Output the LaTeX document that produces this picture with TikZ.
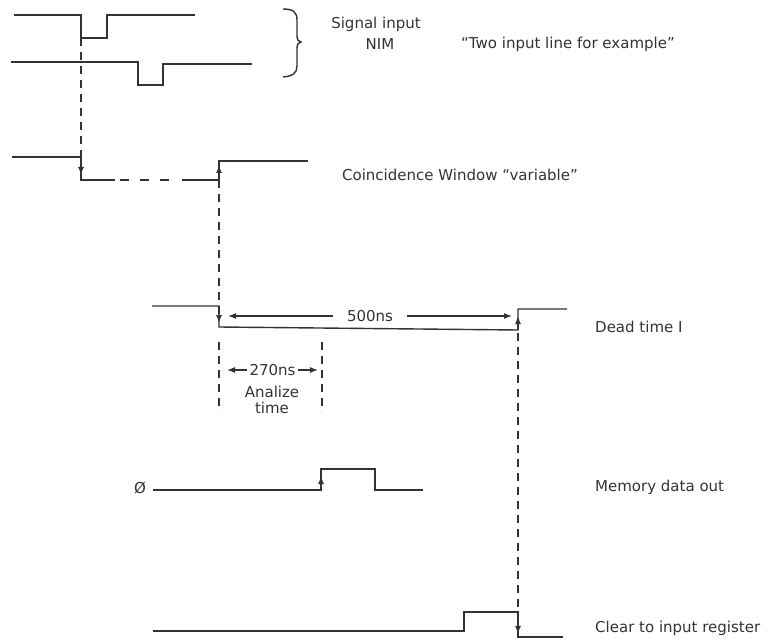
\documentclass[tikz,border=0pt]{standalone}
\usepackage{fontspec}
\setmainfont{DejaVu Sans}
\usetikzlibrary{arrows.meta}
\definecolor{ink}{HTML}{333333}

\begin{document}
\begin{tikzpicture}[x=1pt, y=-1pt, >={Latex[length=8pt,width=6pt]},
  wave/.style={ink, line width=1.4pt},
  guide/.style={ink, line width=1.4pt, dash pattern=on 8pt off 6pt},
  span/.style={ink, line width=1.1pt, <->},
  lab/.style={text=ink, font=\fontsize{15}{17}\selectfont, inner sep=0pt}]
\useasboundingbox (0,0) rectangle (784,644);
\coordinate (inA) at (81,38);
\coordinate (cwA) at (81,175);
\coordinate (cwB) at (219,180);
\coordinate (dtA) at (219,323);
\coordinate (dtB) at (518,333);
\coordinate (clB) at (518,634);
\coordinate (atA) at (219,342);
\coordinate (atB) at (219,412);
\coordinate (atC) at (322,342);
\coordinate (atD) at (322,412);
\draw[wave] (14,15) -- (81,15) -- (81,38) -- (107,38) -- (107,15) -- (195,15);
\draw[wave] (11,62) -- (138,62) -- (138,85) -- (163,85) -- (163,64) -- (252,64);
\draw[wave] (283,9) .. controls (293,9) and (297,12) .. (297,20) -- (297,36) .. controls (297,40) and (299,42) .. (301,42) .. controls (299,42) and (297,44) .. (297,48) -- (297,66) .. controls (297,73) and (293,76) .. (283,77);
\node[lab] (sig) at (376,24) {Signal input};
\node[lab] (nim) at (380,44) {NIM};
\node[lab] (two) at (568,44) {``Two input line for example''};
\draw[wave] (12,157) -- (81,157) -- (81,180) -- (115,180);
\draw[wave, dash pattern=on 9pt off 11pt] (120,180) -- (180,180);
\draw[wave] (182,180) -- (219,180) -- (219,161) -- (308,161);
\draw[wave, ->] (219,180) -- (219,165);
\node[lab] (cw) at (460,175) {Coincidence Window ``variable''};
\draw[wave] (152,306) -- (219,306) -- (219,327) -- (518,330) -- (518,309) -- (567,309);
\draw[wave, ->] (518,330) -- (518,316);
\draw[span] (228,316) -- (512,316) node[lab, midway, fill=white, inner xsep=14pt, inner ysep=2pt] (t500) {500ns};
\node[lab, anchor=west] (dead) at (595,327) {Dead time I};
\draw[span] (227,370) -- (318,370) node[lab, midway, fill=white, inner xsep=3pt, inner ysep=2pt] (t270) {270ns};
\node[lab] (ana) at (272,392) {Analize};
\node[lab] (anatime) at (272,408) {time};
\node[lab] (zero) at (140,488) {Ø};
\draw[wave] (153,490) -- (321,490) -- (321,469) -- (375,469) -- (375,490) -- (423,490);
\draw[wave, ->] (321,490) -- (321,476);
\node[lab, anchor=west] (mem) at (595,487) {Memory data out};
\draw[wave] (153,631) -- (464,631) -- (464,612) -- (518,612) -- (518,637) -- (563,637);
\node[lab, anchor=west] (clr) at (595,628) {Clear to input register};
\draw[guide, ->] (inA) -- (cwA);
\draw[guide, ->] (cwB) -- (dtA);
\draw[guide] (atA) -- (atB);
\draw[guide] (atC) -- (atD);
\draw[guide, ->] (dtB) -- (clB);
\end{tikzpicture}
\end{document}
